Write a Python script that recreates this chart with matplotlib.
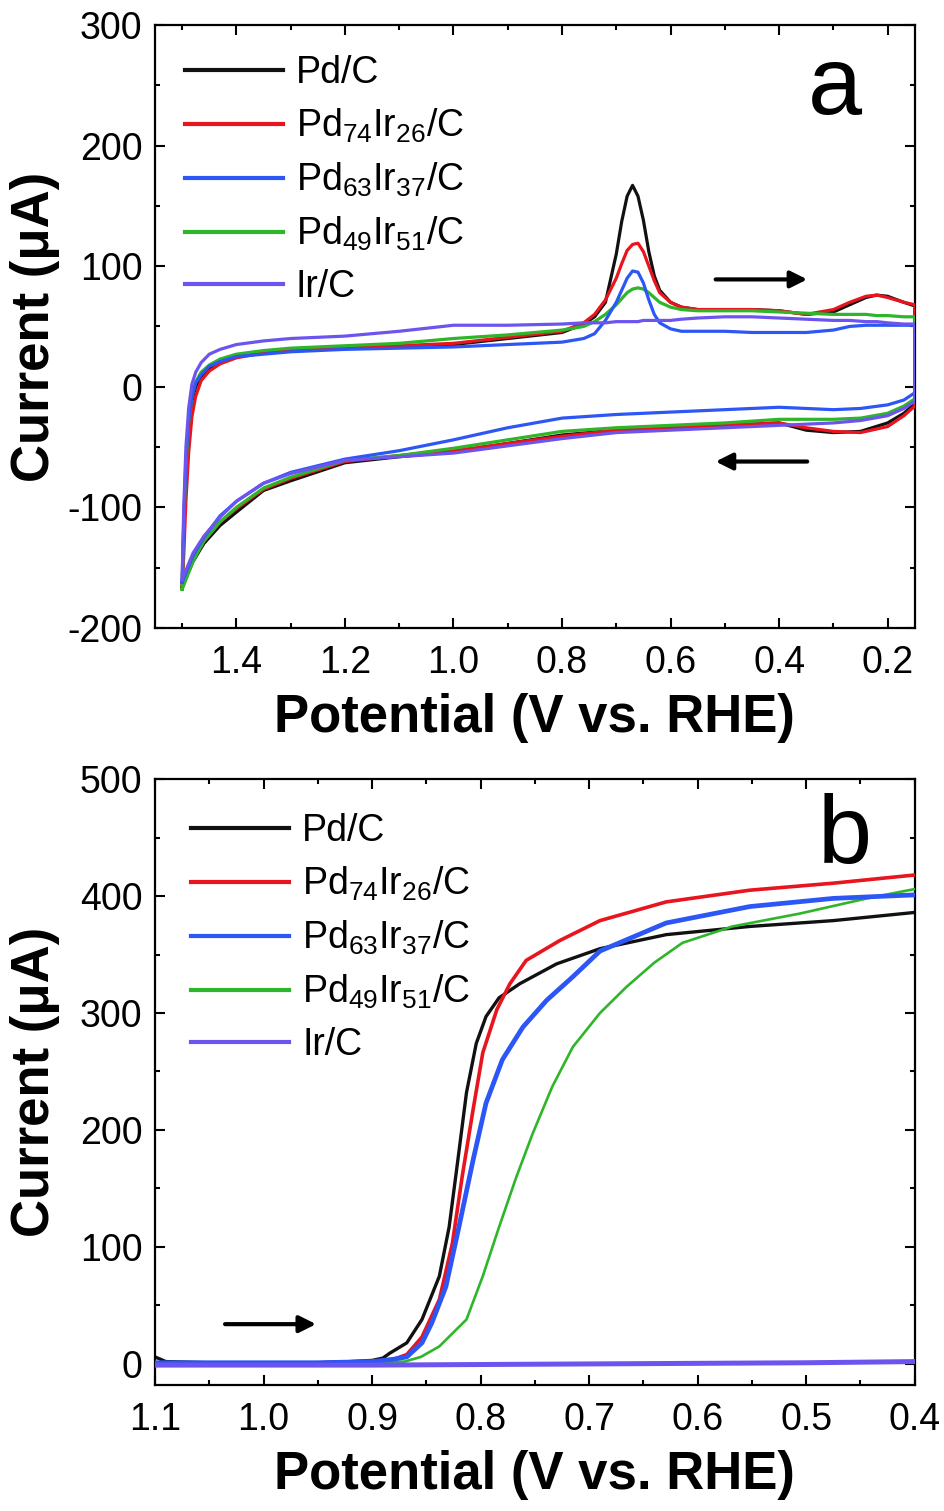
import numpy as np
import matplotlib
matplotlib.use("Agg")
import matplotlib.pyplot as plt
from matplotlib.ticker import MultipleLocator, FormatStrFormatter

plt.rcParams['font.family'] = ['Liberation Sans', 'DejaVu Sans']
plt.rcParams['mathtext.fontset'] = 'custom'
plt.rcParams['mathtext.rm'] = 'Liberation Sans'
plt.rcParams['mathtext.it'] = 'Liberation Sans:italic'
plt.rcParams['mathtext.bf'] = 'Liberation Sans:bold'
plt.rcParams['axes.unicode_minus'] = False

labels = ['Pd/C', r'Pd$_\mathregular{74}$Ir$_\mathregular{26}$/C',
          r'Pd$_\mathregular{63}$Ir$_\mathregular{37}$/C',
          r'Pd$_\mathregular{49}$Ir$_\mathregular{51}$/C', 'Ir/C']
colors = ['#111111', '#e8141e', '#2c56f5', '#2fb52a', '#6c55ef']

# ---- panel a: cyclic voltammograms ----
# forward branch, potentials from 1.5 V down to 0.15 V
cv_top_x = [1.50, 1.497, 1.493, 1.488, 1.482, 1.475, 1.465, 1.45, 1.43, 1.40, 1.35, 1.30,
            1.20, 1.10, 1.00, 0.90, 0.80, 0.76, 0.74, 0.72, 0.70, 0.69, 0.68, 0.67, 0.66,
            0.65, 0.64, 0.63, 0.62, 0.60, 0.58, 0.55, 0.50, 0.45, 0.40, 0.35, 0.30, 0.27,
            0.24, 0.22, 0.20, 0.17, 0.15]
cv_top_pd = [-166, -120, -70, -35, -12, 0, 8, 15, 20, 25, 28, 30,
             32, 33, 35, 40, 45, 52, 58, 70, 110, 137, 158, 167, 158,
             138, 112, 92, 80, 70, 66, 64, 64, 64, 63, 60, 62, 68,
             74, 76, 75, 70, 67]
cv_top_pd74 = [-165, -140, -95, -55, -25, -8, 5, 13, 19, 24, 28, 30,
               32, 34, 36, 41, 46, 53, 60, 72, 90, 102, 113, 118, 119,
               112, 100, 88, 78, 70, 66, 64, 64, 64, 63, 60, 64, 70,
               75, 76, 74, 70, 68]
cv_top_pd63 = [-162, -110, -60, -28, -8, 3, 10, 17, 21, 25, 27, 29,
               31, 32, 33, 35, 37, 40, 44, 55, 70, 80, 90, 96, 95,
               86, 72, 60, 53, 48, 46, 46, 46, 45, 45, 45, 47, 50,
               51, 51, 51, 51, 51]
cv_top_pd49 = [-168, -115, -65, -30, -8, 4, 12, 18, 23, 27, 30, 32,
               34, 36, 40, 43, 47, 50, 54, 60, 68, 73, 78, 81, 82,
               81, 78, 74, 70, 66, 64, 63, 63, 63, 62, 61, 60, 60,
               60, 59, 59, 58, 58]
cv_top_ir = [-160, -100, -50, -18, 2, 12, 20, 27, 31, 35, 38, 40,
             42, 46, 51, 51, 52, 53, 53, 53, 54, 54, 54, 54, 54,
             55, 55, 55, 55, 55, 56, 57, 58, 58, 57, 56, 55, 55,
             54, 54, 53, 52, 52]

# reverse branch, potentials from 0.15 V back to 1.5 V
cv_bot_x = [0.15, 0.17, 0.20, 0.25, 0.30, 0.35, 0.40, 0.50, 0.60, 0.70, 0.80, 0.90,
            1.00, 1.10, 1.20, 1.30, 1.35, 1.40, 1.43, 1.46, 1.48, 1.50]
cv_bot_pd = [-14, -22, -30, -37, -38, -36, -30, -32, -34, -36, -40, -47,
             -54, -58, -63, -78, -86, -104, -115, -130, -145, -166]
cv_bot_pd74 = [-16, -24, -33, -38, -37, -34, -30, -32, -34, -36, -41, -47,
               -53, -57, -62, -76, -85, -101, -112, -128, -143, -165]
cv_bot_pd63 = [-5, -11, -15, -18, -19, -18, -17, -19, -21, -23, -26, -34,
               -44, -53, -60, -71, -80, -95, -107, -125, -140, -162]
cv_bot_pd49 = [-10, -16, -22, -26, -27, -27, -27, -30, -32, -34, -37, -44,
               -51, -57, -61, -75, -84, -100, -112, -128, -145, -168]
cv_bot_ir = [-12, -18, -24, -28, -30, -31, -32, -34, -36, -38, -43, -49,
             -55, -58, -61, -72, -80, -95, -108, -124, -138, -160]

cv_top = [cv_top_pd, cv_top_pd74, cv_top_pd63, cv_top_pd49, cv_top_ir]
cv_bot = [cv_bot_pd, cv_bot_pd74, cv_bot_pd63, cv_bot_pd49, cv_bot_ir]

# ---- panel b: linear sweep voltammograms ----
lsv_x_pd = [1.10, 1.09, 1.05, 1.00, 0.95, 0.92, 0.90, 0.89, 0.884, 0.868, 0.854, 0.838,
            0.829, 0.821, 0.813, 0.804, 0.795, 0.783, 0.764, 0.730, 0.690, 0.629, 0.552,
            0.475, 0.40]
lsv_y_pd = [6, 2, 1, 1, 1, 2, 3, 5, 9, 18, 38, 75,
            117, 174, 232, 274, 297, 313, 325, 342, 355, 367, 374,
            379, 386]
lsv_x_pd74 = [1.10, 1.00, 0.95, 0.90, 0.88, 0.868, 0.854, 0.838, 0.826, 0.817, 0.807,
              0.798, 0.785, 0.773, 0.758, 0.727, 0.690, 0.629, 0.552, 0.475, 0.40]
lsv_y_pd74 = [1, 1, 1, 2, 4, 8, 23, 55, 103, 160, 217,
              266, 303, 325, 345, 362, 379, 395, 405, 411, 418]
lsv_x_pd63 = [1.10, 1.00, 0.95, 0.90, 0.88, 0.868, 0.854, 0.845, 0.832, 0.820, 0.807,
              0.795, 0.780, 0.761, 0.739, 0.715, 0.690, 0.629, 0.552, 0.475, 0.40]
lsv_y_pd63 = [1, 1, 1, 2, 4, 6, 18, 35, 66, 117, 174,
              223, 260, 288, 311, 331, 353, 377, 391, 398, 401]
lsv_x_pd49 = [1.10, 1.00, 0.90, 0.87, 0.855, 0.838, 0.813, 0.798, 0.783, 0.767, 0.752,
              0.734, 0.715, 0.690, 0.666, 0.640, 0.614, 0.568, 0.506, 0.444, 0.40]
lsv_y_pd49 = [1, 1, 1, 2, 6, 15, 38, 75, 117, 160, 197,
              237, 271, 300, 322, 343, 360, 374, 385, 398, 406]
lsv_x_ir = [1.10, 0.90, 0.70, 0.50, 0.40]
lsv_y_ir = [-1, -1, 0, 1, 2]

lsv_x = [lsv_x_pd, lsv_x_pd74, lsv_x_pd63, lsv_x_pd49, lsv_x_ir]
lsv_y = [lsv_y_pd, lsv_y_pd74, lsv_y_pd63, lsv_y_pd49, lsv_y_ir]
lsv_lw = [2.4, 2.6, 3.4, 1.9, 3.6]
order = [2, 3, 5, 4, 6]

fig = plt.figure(figsize=(9.45, 15.11), dpi=100)
ax1 = fig.add_axes([0.164, 0.5844, 0.804, 0.3991])
ax2 = fig.add_axes([0.164, 0.0834, 0.804, 0.4010])

for i in range(5):
    xs = np.concatenate([cv_top_x, cv_bot_x])
    ys = np.concatenate([cv_top[i], cv_bot[i]])
    ax1.plot(xs, ys, color=colors[i], lw=2.3, label=labels[i], zorder=order[i])
    ax2.plot(lsv_x[i], lsv_y[i], color=colors[i], lw=lsv_lw[i], label=labels[i],
             zorder=order[i])


def style(ax, xmaj, xmin, ymaj, ymin):
    ax.xaxis.set_major_locator(MultipleLocator(xmaj))
    ax.xaxis.set_minor_locator(MultipleLocator(xmin))
    ax.yaxis.set_major_locator(MultipleLocator(ymaj))
    ax.yaxis.set_minor_locator(MultipleLocator(ymin))
    ax.xaxis.set_major_formatter(FormatStrFormatter('%.1f'))
    ax.tick_params(which='both', direction='in', top=True, right=True,
                   labelsize=27, width=1.5)
    ax.tick_params(axis='x', pad=12)
    ax.tick_params(axis='y', pad=9)
    ax.tick_params(which='major', length=7)
    ax.tick_params(which='minor', length=3.5)
    for s in ax.spines.values():
        s.set_linewidth(1.6)
    ax.set_xlabel('Potential (V vs. RHE)', fontsize=38, fontweight='bold')
    ax.set_ylabel('Current (μA)', fontsize=38, fontweight='bold')
    ax.xaxis.set_label_coords(0.5, -0.108)
    ax.yaxis.set_label_coords(-0.125, 0.5)


style(ax1, 0.2, 0.1, 100, 50)
ax1.set_xlim(1.55, 0.15)
ax1.set_ylim(-200, 300)
style(ax2, 0.1, 0.05, 100, 50)
ax2.set_xlim(1.1, 0.4)
ax2.set_ylim(-18, 500)

arrow = dict(arrowstyle='-|>', lw=3, color='black', mutation_scale=25)
ax1.annotate('', xy=(0.343, 89), xytext=(0.522, 89), arrowprops=arrow)
ax1.annotate('', xy=(0.522, -62), xytext=(0.343, -62), arrowprops=arrow)
ax2.annotate('', xy=(0.949, 34), xytext=(1.038, 34), arrowprops=arrow)

ax1.text(0.895, 0.894, 'a', transform=ax1.transAxes, fontsize=70,
         ha='center', va='center')
ax2.text(0.908, 0.903, 'b', transform=ax2.transAxes, fontsize=70,
         ha='center', va='center')

for ax, anchor in [(ax1, (0.040, 0.950)), (ax2, (0.048, 0.944))]:
    leg = ax.legend(loc='upper left', bbox_to_anchor=anchor, frameon=False,
                    fontsize=27, handlelength=2.6, handletextpad=0.35,
                    labelspacing=0.42, borderpad=0, borderaxespad=0)
    for h in leg.get_lines():
        h.set_linewidth(3)

fig.savefig('out.png', dpi=100)
